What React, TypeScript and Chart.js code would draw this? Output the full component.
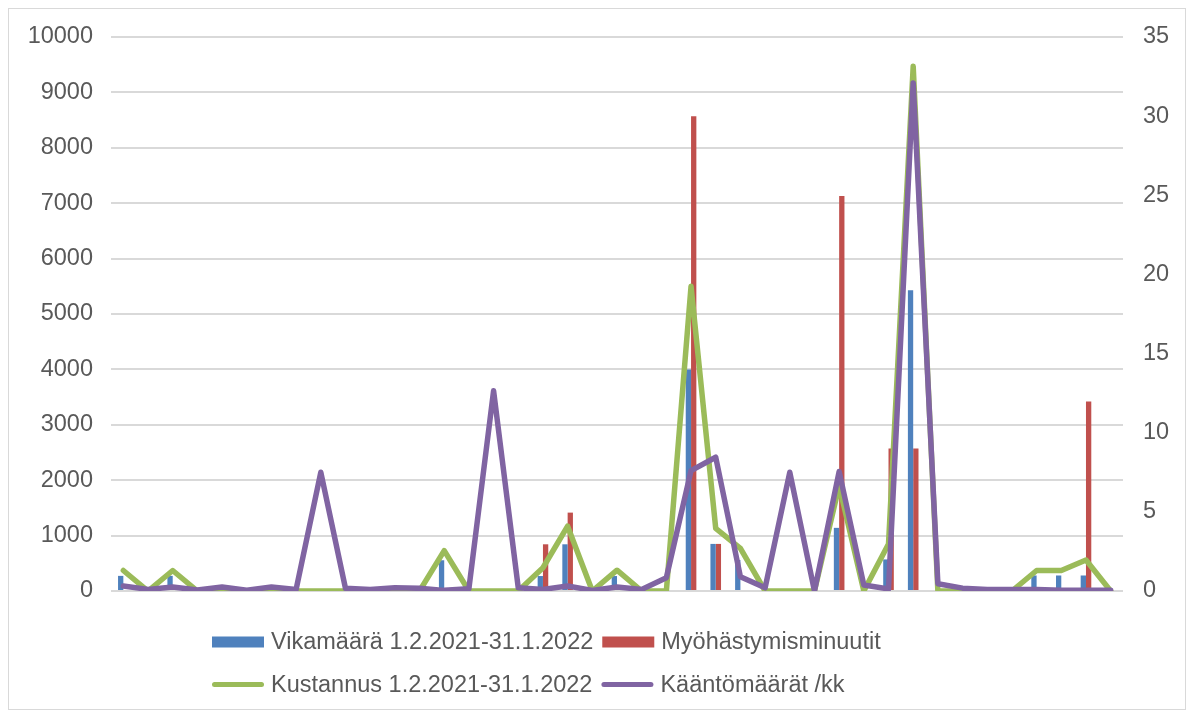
import React, { useEffect, useRef } from "react";
import { Chart, registerables } from "chart.js";

Chart.register(...registerables);

// ---- Data ----
const categories = [
  "1", "2", "3", "4", "5", "6", "7", "8", "9", "10",
  "11", "12", "13", "14", "15", "16", "17", "18", "19", "20",
  "21", "22", "23", "24", "25", "26", "27", "28", "29", "30",
  "31", "32", "33", "34", "35", "36", "37", "38", "39", "40", "41",
];

const vikamaara = [
  273, 0, 273, 0, 0, 0, 0, 0, 0, 0,
  0, 0, 0, 555, 0, 0, 0, 270, 843, 0,
  270, 0, 0, 4000, 850, 560, 0, 0, 0, 1140,
  0, 570, 5430, 0, 0, 0, 0, 280, 280, 280, 0,
];

const myohastymisminuutit = [
  0, 0, 0, 0, 0, 0, 0, 0, 0, 0,
  0, 0, 0, 0, 0, 0, 0, 843, 1415, 0,
  0, 0, 0, 8570, 850, 0, 0, 0, 0, 7130,
  0, 2570, 2570, 0, 0, 0, 0, 0, 0, 3420, 0,
];

const kustannus = [
  370, 0, 370, 0, 0, 0, 0, 0, 0, 0,
  0, 0, 0, 730, 0, 0, 0, 420, 1170, 0,
  375, 0, 0, 5500, 1130, 770, 0, 0, 0, 1900,
  0, 850, 9470, 0, 0, 0, 0, 370, 370, 560, 0,
];

const kaantomaarat = [
  0.32, 0.1, 0.25, 0.06, 0.25, 0.05, 0.25, 0.1, 7.5, 0.17,
  0.1, 0.2, 0.17, 0.04, 0.15, 12.65, 0.2, 0.1, 0.32, 0.04,
  0.25, 0.1, 0.84, 7.6, 8.45, 0.9, 0.2, 7.5, 0, 7.55,
  0.38, 0.13, 32.1, 0.46, 0.18, 0.1, 0.1, 0.1, 0.05, 0.05, 0.05,
];

const seriesLabels = [
  "Vikamäärä 1.2.2021-31.1.2022",
  "Myöhästymisminuutit",
  "Kustannus 1.2.2021-31.1.2022",
  "Kääntömäärät /kk",
];

const leftTicks = [0, 1000, 2000, 3000, 4000, 5000, 6000, 7000, 8000, 9000, 10000];
const rightTicks = [0, 5, 10, 15, 20, 25, 30, 35];

// ---- Styles ----
const FONT = '"Liberation Sans", Arial, sans-serif';
const FONT_SIZE = 23.5;
const TEXT_COLOR = "#595959";
const COLORS = ["#4f81bd", "#c0504d", "#9bbb59", "#8064a2"];
const LEGEND_ROWS = [[0, 1], [2, 3]];
const LEGEND_X = 203;
const LEGEND_ROW_OFFSETS = [51, 93.5];

const legendPlugin = {
  id: "customLegend",
  afterDraw(chart: any) {
    const ctx = chart.ctx as CanvasRenderingContext2D;
    const ca = chart.chartArea;
    ctx.save();
    ctx.font = `${FONT_SIZE}px ${FONT}`;
    ctx.textBaseline = "middle";
    ctx.textAlign = "left";
    LEGEND_ROWS.forEach((row, r) => {
      let x = LEGEND_X;
      const y = ca.bottom + LEGEND_ROW_OFFSETS[r];
      row.forEach((idx) => {
        const ds = chart.data.datasets[idx];
        if (ds.type === "bar") {
          ctx.fillStyle = ds.backgroundColor;
          ctx.fillRect(x, y - 5.5, 52, 11);
        } else {
          ctx.strokeStyle = ds.borderColor;
          ctx.lineWidth = 5;
          ctx.lineCap = "round";
          ctx.beginPath();
          ctx.moveTo(x + 2.5, y);
          ctx.lineTo(x + 49.5, y);
          ctx.stroke();
        }
        x += 52 + 7;
        ctx.fillStyle = TEXT_COLOR;
        ctx.fillText(ds.label, x, y + 1);
        x += ctx.measureText(ds.label).width + 9;
      });
    });
    ctx.restore();
  },
};

export default function App() {
  const ref = useRef<HTMLCanvasElement>(null);

  useEffect(() => {
    document.documentElement.style.overflow = "hidden";
    const tickFont = { family: FONT, size: FONT_SIZE };
    const chart = new Chart(ref.current!, {
      type: "bar",
      data: {
        labels: categories,
        datasets: [
          {
            type: "bar",
            label: seriesLabels[0],
            data: vikamaara,
            backgroundColor: COLORS[0],
            yAxisID: "y",
            order: 2,
            categoryPercentage: 0.43,
            barPercentage: 1,
          },
          {
            type: "bar",
            label: seriesLabels[1],
            data: myohastymisminuutit,
            backgroundColor: COLORS[1],
            yAxisID: "y",
            order: 2,
            categoryPercentage: 0.43,
            barPercentage: 1,
          },
          {
            type: "line",
            label: seriesLabels[2],
            data: kustannus,
            borderColor: COLORS[2],
            backgroundColor: COLORS[2],
            borderWidth: 5.5,
            pointRadius: 0,
            tension: 0,
            fill: false,
            borderJoinStyle: "round",
            borderCapStyle: "round",
            yAxisID: "y",
            order: 1,
          },
          {
            type: "line",
            label: seriesLabels[3],
            data: kaantomaarat,
            borderColor: COLORS[3],
            backgroundColor: COLORS[3],
            borderWidth: 5.5,
            pointRadius: 0,
            tension: 0,
            fill: false,
            borderJoinStyle: "round",
            borderCapStyle: "round",
            yAxisID: "y1",
            order: 0,
          },
        ] as any,
      },
      options: {
        animation: false,
        responsive: false,
        maintainAspectRatio: false,
        devicePixelRatio: 1,
        layout: { padding: { top: 28, bottom: 118, left: 0, right: 0 } },
        plugins: {
          legend: { display: false },
          tooltip: { enabled: false },
        },
        scales: {
          x: {
            display: false,
            offset: true,
            grid: { display: false },
          },
          y: {
            position: "left",
            min: leftTicks[0],
            max: leftTicks[leftTicks.length - 1],
            afterBuildTicks: (s: any) => {
              s.ticks = leftTicks.map((v) => ({ value: v }));
            },
            ticks: {
              padding: 18,
              color: TEXT_COLOR,
              font: tickFont,
              callback: (v: any) => String(v),
            },
            grid: { color: "#d9d9d9", lineWidth: 2, drawTicks: false },
            border: { display: false },
            afterFit: (s: any) => {
              s.width = 102;
              s.paddingTop = 0;
              s.paddingBottom = 0;
            },
          },
          y1: {
            position: "right",
            min: rightTicks[0],
            max: rightTicks[rightTicks.length - 1],
            afterBuildTicks: (s: any) => {
              s.ticks = rightTicks.map((v) => ({ value: v }));
            },
            ticks: {
              padding: 20,
              color: TEXT_COLOR,
              font: tickFont,
              callback: (v: any) => String(v),
            },
            grid: { drawOnChartArea: false, drawTicks: false },
            border: { display: false },
            afterFit: (s: any) => {
              s.width = 62;
              s.paddingTop = 0;
              s.paddingBottom = 0;
            },
          },
        } as any,
      },
      plugins: [legendPlugin],
    });
    return () => chart.destroy();
  }, []);

  return (
    <div
      style={{
        width: 1176,
        height: 700,
        border: "1px solid #d9d9d9",
        position: "relative",
        background: "#ffffff",
      }}
    >
      <canvas ref={ref} width={1176} height={700} style={{ display: "block" }} />
    </div>
  );
}
